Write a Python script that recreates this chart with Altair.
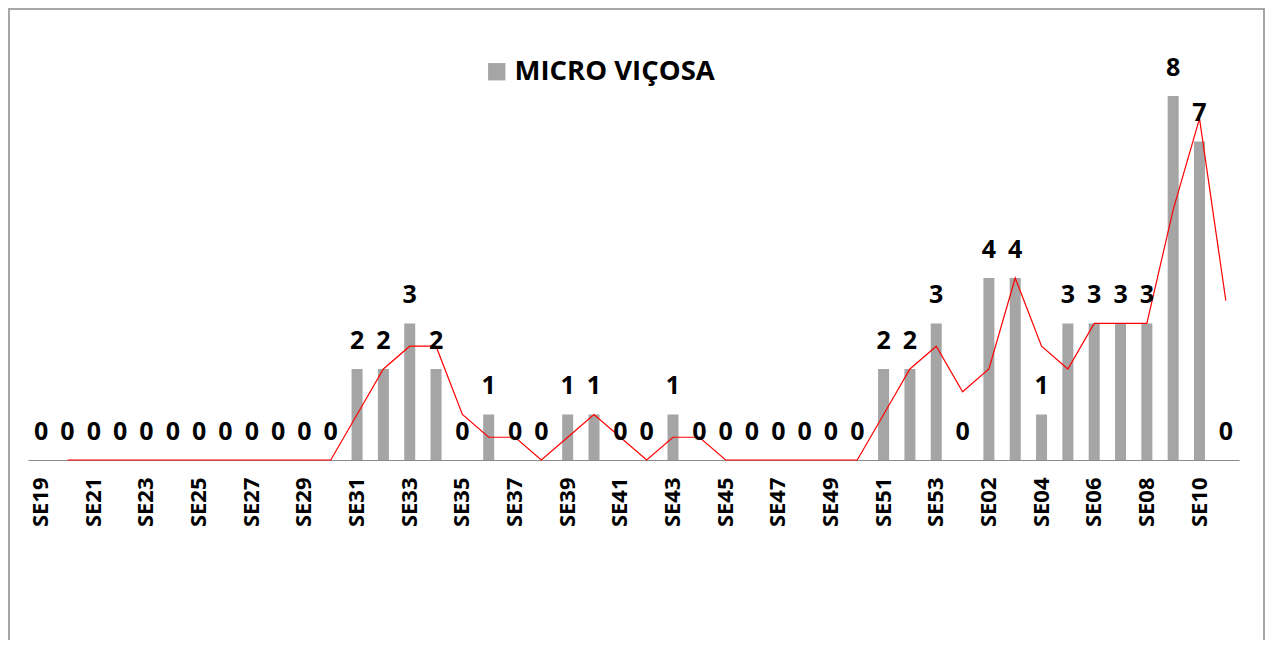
import altair as alt
import pandas as pd

weeks = ["SE19", "SE20", "SE21", "SE22", "SE23", "SE24", "SE25", "SE26", "SE27", "SE28",
         "SE29", "SE30", "SE31", "SE32", "SE33", "SE34", "SE35", "SE36", "SE37", "SE38",
         "SE39", "SE40", "SE41", "SE42", "SE43", "SE44", "SE45", "SE46", "SE47", "SE48",
         "SE49", "SE50", "SE51", "SE52", "SE53", "SE01", "SE02", "SE03", "SE04", "SE05",
         "SE06", "SE07", "SE08", "SE09", "SE10", "SE11"]
cases = [0, 0, 0, 0, 0, 0, 0, 0, 0, 0,
         0, 0, 2, 2, 3, 2, 0, 1, 0, 0,
         1, 1, 0, 0, 1, 0, 0, 0, 0, 0,
         0, 0, 2, 2, 3, 0, 4, 4, 1, 3,
         3, 3, 3, 8, 7, 0]
series_name = "MICRO VIÇOSA"
tick_labels = weeks[::2]

df = pd.DataFrame({"week": weeks, "cases": cases, "serie": [series_name] * len(weeks)})

FONT = "Open Sans"
xenc = alt.X("week:N", sort=weeks,
             scale=alt.Scale(type="band", paddingInner=0, paddingOuter=0),
             axis=alt.Axis(title=None, values=tick_labels, labelAngle=-90,
                           labelFont=FONT, labelFontWeight="bold", labelFontSize=22,
                           labelColor="black", labelPadding=17, ticks=False,
                           domainColor="#8C8C8C", domainWidth=1, grid=False))
yscale = alt.Scale(domain=[0, 9.8])
yenc = alt.Y("cases:Q", scale=yscale, axis=None)

base = alt.Chart(df)

bars = base.mark_bar(size=11).encode(
    x=xenc, y=yenc,
    color=alt.Color("serie:N", scale=alt.Scale(range=["#A5A5A5"]),
                    legend=alt.Legend(orient="none", legendX=455, legendY=44, title=None,
                                      symbolType="square", symbolSize=300,
                                      symbolStrokeWidth=0, symbolOpacity=1,
                                      labelFont=FONT, labelFontWeight="bold",
                                      labelFontSize=27.5, labelColor="black",
                                      labelLimit=0, labelOffset=4, padding=0)))

labels = base.mark_text(dy=-20, baseline="alphabetic", font=FONT, fontWeight="bold",
                        fontSize=25, color="black").encode(
    x=alt.X("week:N", sort=weeks), y=yenc, text="cases:Q")

line = base.transform_window(
    avg="mean(cases)", idx="row_number()", frame=[-1, 0]
).transform_filter("datum.idx > 1").mark_line(color="#FF0000", strokeWidth=1.2).encode(
    x=alt.X("week:N", sort=weeks), y=alt.Y("avg:Q", scale=yscale, axis=None))

frame = alt.Chart(pd.DataFrame({"a": [0]})).mark_rect(
    fill=None, stroke="#A6A6A6", strokeWidth=2).encode(
    x=alt.value(-19), x2=alt.value(1236), y=alt.value(-5), y2=alt.value(700))

chart = alt.layer(frame, bars, line, labels).properties(
    width=1211, height=446,
    autosize=alt.AutoSizeParams(type="none"),
    padding={"left": 20, "top": 6, "right": 26, "bottom": 180},
).configure(background="white", view=alt.ViewConfig(stroke=None))

chart.save("out.html", embed_options={"renderer": "svg", "actions": False})
